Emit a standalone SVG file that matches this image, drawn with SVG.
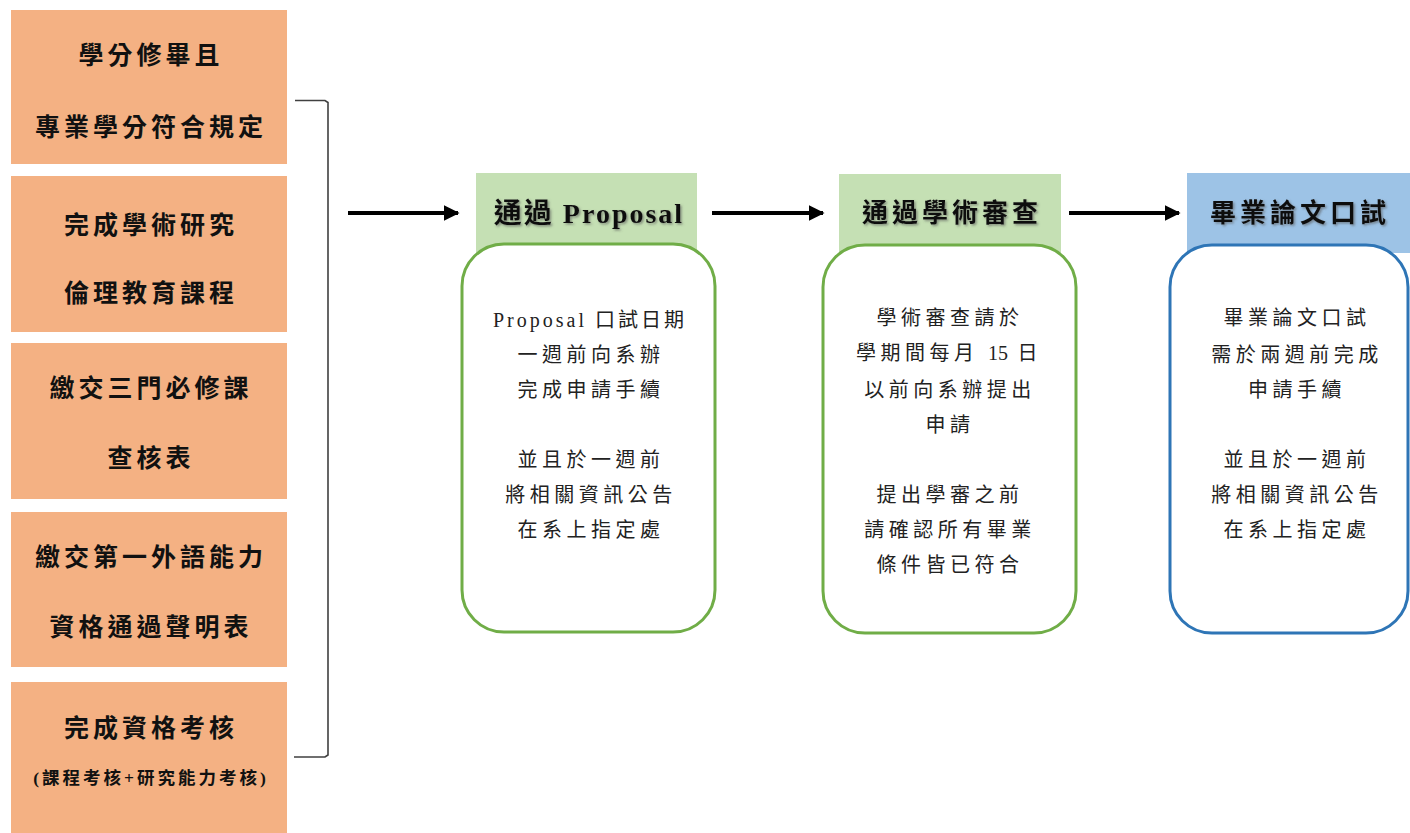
<svg xmlns="http://www.w3.org/2000/svg" width="1410" height="833" viewBox="0 0 1410 833">
<defs>
<style>
.req{fill:#F4B183;}
.rt{font-family:"Liberation Serif","Noto Sans CJK TC",serif;font-weight:bold;font-size:25px;letter-spacing:4px;fill:#111;text-anchor:middle;dominant-baseline:central;}
.rs{font-size:17.5px;letter-spacing:3px;}
.hg{fill:#C5E0B4;}
.hb{fill:#9DC3E6;}
.ht{font-family:"Liberation Serif","Noto Sans CJK TC",serif;font-weight:bold;font-size:26px;letter-spacing:4px;fill:#111;text-anchor:middle;dominant-baseline:central;filter:url(#sh);}
.bg{fill:#fff;stroke:#70AD47;stroke-width:3;}
.bb{fill:#fff;stroke:#2E75B6;stroke-width:3;}
.bt{font-family:"Liberation Serif","Noto Sans CJK TC",serif;font-size:20px;letter-spacing:4.5px;fill:#222;text-anchor:middle;dominant-baseline:central;}
.arr{stroke:#000;stroke-width:4;fill:none;marker-end:url(#ah);}
.brk{stroke:#404040;stroke-width:1.6;fill:none;}
</style>
<marker id="ah" viewBox="0 0 10 10" refX="9" refY="5" markerWidth="4" markerHeight="4" orient="auto" markerUnits="strokeWidth">
<path d="M0,0 L10,5 L0,10 Z" fill="#000"/>
</marker>
<filter id="sh" x="-10%" y="-30%" width="120%" height="160%">
<feDropShadow dx="1.5" dy="1.5" stdDeviation="1" flood-color="#555" flood-opacity="0.6"/>
</filter>
</defs>

<g id="req1">
<rect class="req" x="11" y="10" width="276" height="154"/>
<text class="rt" x="151" y="55">學分修畢且</text>
<text class="rt" x="151" y="127">專業學分符合規定</text>
</g>
<g id="req2">
<rect class="req" x="11" y="176" width="276" height="156"/>
<text class="rt" x="151" y="225">完成學術研究</text>
<text class="rt" x="151" y="293">倫理教育課程</text>
</g>
<g id="req3">
<rect class="req" x="11" y="343" width="276" height="156"/>
<text class="rt" x="151" y="388">繳交三門必修課</text>
<text class="rt" x="151" y="458">查核表</text>
</g>
<g id="req4">
<rect class="req" x="11" y="512" width="276" height="155"/>
<text class="rt" x="151" y="557">繳交第一外語能力</text>
<text class="rt" x="151" y="627">資格通過聲明表</text>
</g>
<g id="req5">
<rect class="req" x="11" y="682" width="276" height="160"/>
<text class="rt" x="151" y="728">完成資格考核</text>
<text class="rt rs" x="151" y="778">(課程考核+研究能力考核)</text>
</g>

<g id="connectors">
<path class="brk" d="M295,100.5 L325,100.5 L328,102.5 L328,755 L325,757 L294,757"/>
<line class="arr" x1="348" y1="213" x2="458" y2="213"/>
<line class="arr" x1="712" y1="213" x2="823" y2="213"/>
<line class="arr" x1="1069" y1="213" x2="1179" y2="213"/>
</g>

<g id="step1">
<rect class="hg" x="476" y="173" width="221" height="80"/>
<text class="ht" x="589" y="213" style="font-size:28px;letter-spacing:2px">通過 Proposal</text>
<rect class="bg" x="462" y="244" width="253" height="388" rx="42" ry="42"/>
<text class="bt" x="590" y="320" style="letter-spacing:3px">Proposal 口試日期</text>
<text class="bt" x="591" y="355">一週前向系辦</text>
<text class="bt" x="591" y="390">完成申請手續</text>
<text class="bt" x="591" y="460">並且於一週前</text>
<text class="bt" x="591" y="495">將相關資訊公告</text>
<text class="bt" x="591" y="530">在系上指定處</text>
</g>

<g id="step2">
<rect class="hg" x="839" y="174" width="222" height="79"/>
<text class="ht" x="952" y="213">通過學術審查</text>
<rect class="bg" x="823" y="245" width="253" height="388" rx="42" ry="42"/>
<text class="bt" x="950" y="318">學術審查請於</text>
<text class="bt" x="949" y="353">學期間每月 <tspan style="letter-spacing:0">15</tspan> 日</text>
<text class="bt" x="950" y="390">以前向系辦提出</text>
<text class="bt" x="950" y="425">申請</text>
<text class="bt" x="950" y="495">提出學審之前</text>
<text class="bt" x="950" y="530">請確認所有畢業</text>
<text class="bt" x="950" y="565">條件皆已符合</text>
</g>

<g id="step3">
<rect class="hb" x="1187" y="173" width="223" height="80"/>
<text class="ht" x="1300" y="213">畢業論文口試</text>
<rect class="bb" x="1170" y="245" width="238" height="388" rx="42" ry="42"/>
<text class="bt" x="1297" y="318">畢業論文口試</text>
<text class="bt" x="1297" y="355">需於兩週前完成</text>
<text class="bt" x="1297" y="390">申請手續</text>
<text class="bt" x="1297" y="460">並且於一週前</text>
<text class="bt" x="1297" y="495">將相關資訊公告</text>
<text class="bt" x="1297" y="530">在系上指定處</text>
</g>
</svg>
